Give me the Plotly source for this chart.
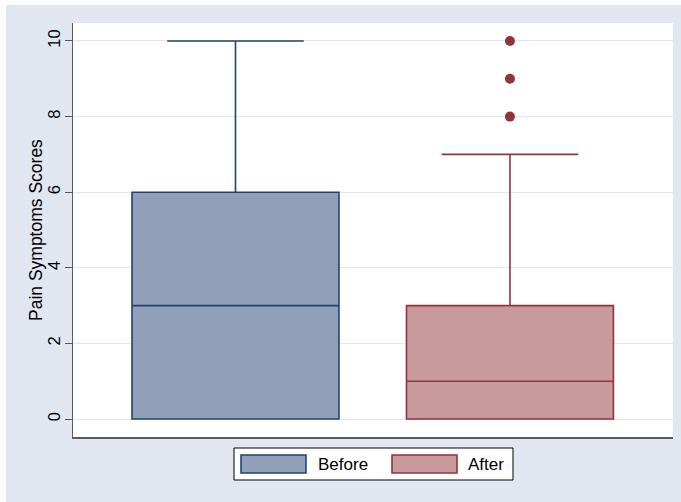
import plotly.graph_objects as go

# Summary statistics of pain symptom scores
groups = ["Before", "After"]
positions = [0, 1]
q1 = [0, 0]
median = [3, 1]
q3 = [6, 3]
lower_adj = [0, 0]
upper_adj = [10, 7]
outlier_values = [8, 9, 10]  # outside values for "After"
yticks = [0, 2, 4, 6, 8, 10]

line_colors = ["rgb(26,71,111)", "rgb(144,53,59)"]
fill_colors = ["rgb(146,159,184)", "rgb(200,153,157)"]

FONT = "Arial, Liberation Sans, sans-serif"
BG = "rgb(226,230,240)"

fig = go.Figure()

for i, g in enumerate(groups):
    fig.add_trace(go.Box(
        name=g,
        x=[positions[i]],
        q1=[q1[i]], median=[median[i]], q3=[q3[i]],
        lowerfence=[lower_adj[i]], upperfence=[upper_adj[i]],
        width=0.754,
        whiskerwidth=0.66,
        fillcolor=fill_colors[i],
        line=dict(color=line_colors[i], width=1.6),
        boxpoints=False,
        showlegend=False,
        hoverinfo="skip",
    ))

fig.add_trace(go.Scatter(
    x=[positions[1]] * len(outlier_values),
    y=outlier_values,
    mode="markers",
    marker=dict(color=line_colors[1], size=10),
    showlegend=False,
    hoverinfo="skip",
))

# page frame: white strip at left and top, lavender elsewhere
W, H = 681, 502
ml, mr, mt, mb = 73, 8, 23, 65
pw, ph = W - ml - mr, H - mt - mb


def px_x(p):
    return (p - ml) / pw


def px_y(p):
    return (H - mb - p) / ph


shapes = [
    dict(type="rect", xref="paper", yref="paper", layer="below",
         x0=px_x(0), x1=px_x(6), y0=px_y(H), y1=px_y(0),
         fillcolor="white", line=dict(width=0)),
    dict(type="rect", xref="paper", yref="paper", layer="below",
         x0=px_x(0), x1=px_x(W), y0=px_y(5), y1=px_y(0),
         fillcolor="white", line=dict(width=0)),
    # legend frame
    dict(type="rect", xref="paper", yref="paper",
         x0=px_x(234), x1=px_x(513), y0=px_y(480), y1=px_y(448),
         fillcolor="white", line=dict(color="black", width=1)),
]

annotations = []
legend_sym_x = [241, 392]
legend_txt_x = [316, 466]
for i, g in enumerate(groups):
    shapes.append(dict(
        type="rect", xref="paper", yref="paper",
        x0=px_x(legend_sym_x[i]), x1=px_x(legend_sym_x[i] + 65),
        y0=px_y(473), y1=px_y(455),
        fillcolor=fill_colors[i], line=dict(color=line_colors[i], width=1.6),
    ))
    annotations.append(dict(
        xref="paper", yref="paper", x=px_x(legend_txt_x[i]), y=px_y(464),
        text=g, showarrow=False, xanchor="left", yanchor="middle",
        font=dict(family=FONT, size=17, color="black"),
    ))

# axis title placed as rotated text left of the tick labels
annotations.append(dict(
    xref="paper", yref="paper", x=px_x(36), y=px_y(230),
    text="Pain Symptoms Scores", showarrow=False, textangle=-90,
    xanchor="center", yanchor="middle",
    font=dict(family=FONT, size=17.5, color="black"),
))

fig.update_layout(
    width=W, height=H,
    margin=dict(l=ml, r=mr, t=mt, b=mb),
    paper_bgcolor=BG,
    plot_bgcolor="white",
    shapes=shapes,
    annotations=annotations,
    showlegend=False,
    font=dict(family=FONT, color="black"),
)

fig.update_xaxes(
    range=[-0.592, 1.594],
    showgrid=False, zeroline=False,
    showticklabels=False, ticks="",
    showline=True, linecolor="rgb(90,90,90)", linewidth=1.5,
)

fig.update_yaxes(
    range=[-0.476, 10.476],
    tickvals=yticks,
    ticktext=[str(v) for v in yticks],
    tickangle=-90,
    ticks="outside", ticklen=7, tickcolor="rgb(90,90,90)", tickwidth=1,
    tickfont=dict(family=FONT, size=16.5, color="black"),
    ticklabelstandoff=-2,
    showgrid=True, gridcolor="rgb(226,230,240)", gridwidth=1,
    zeroline=False,
    showline=True, linecolor="rgb(90,90,90)", linewidth=1,
)

fig.write_html("out.html")
